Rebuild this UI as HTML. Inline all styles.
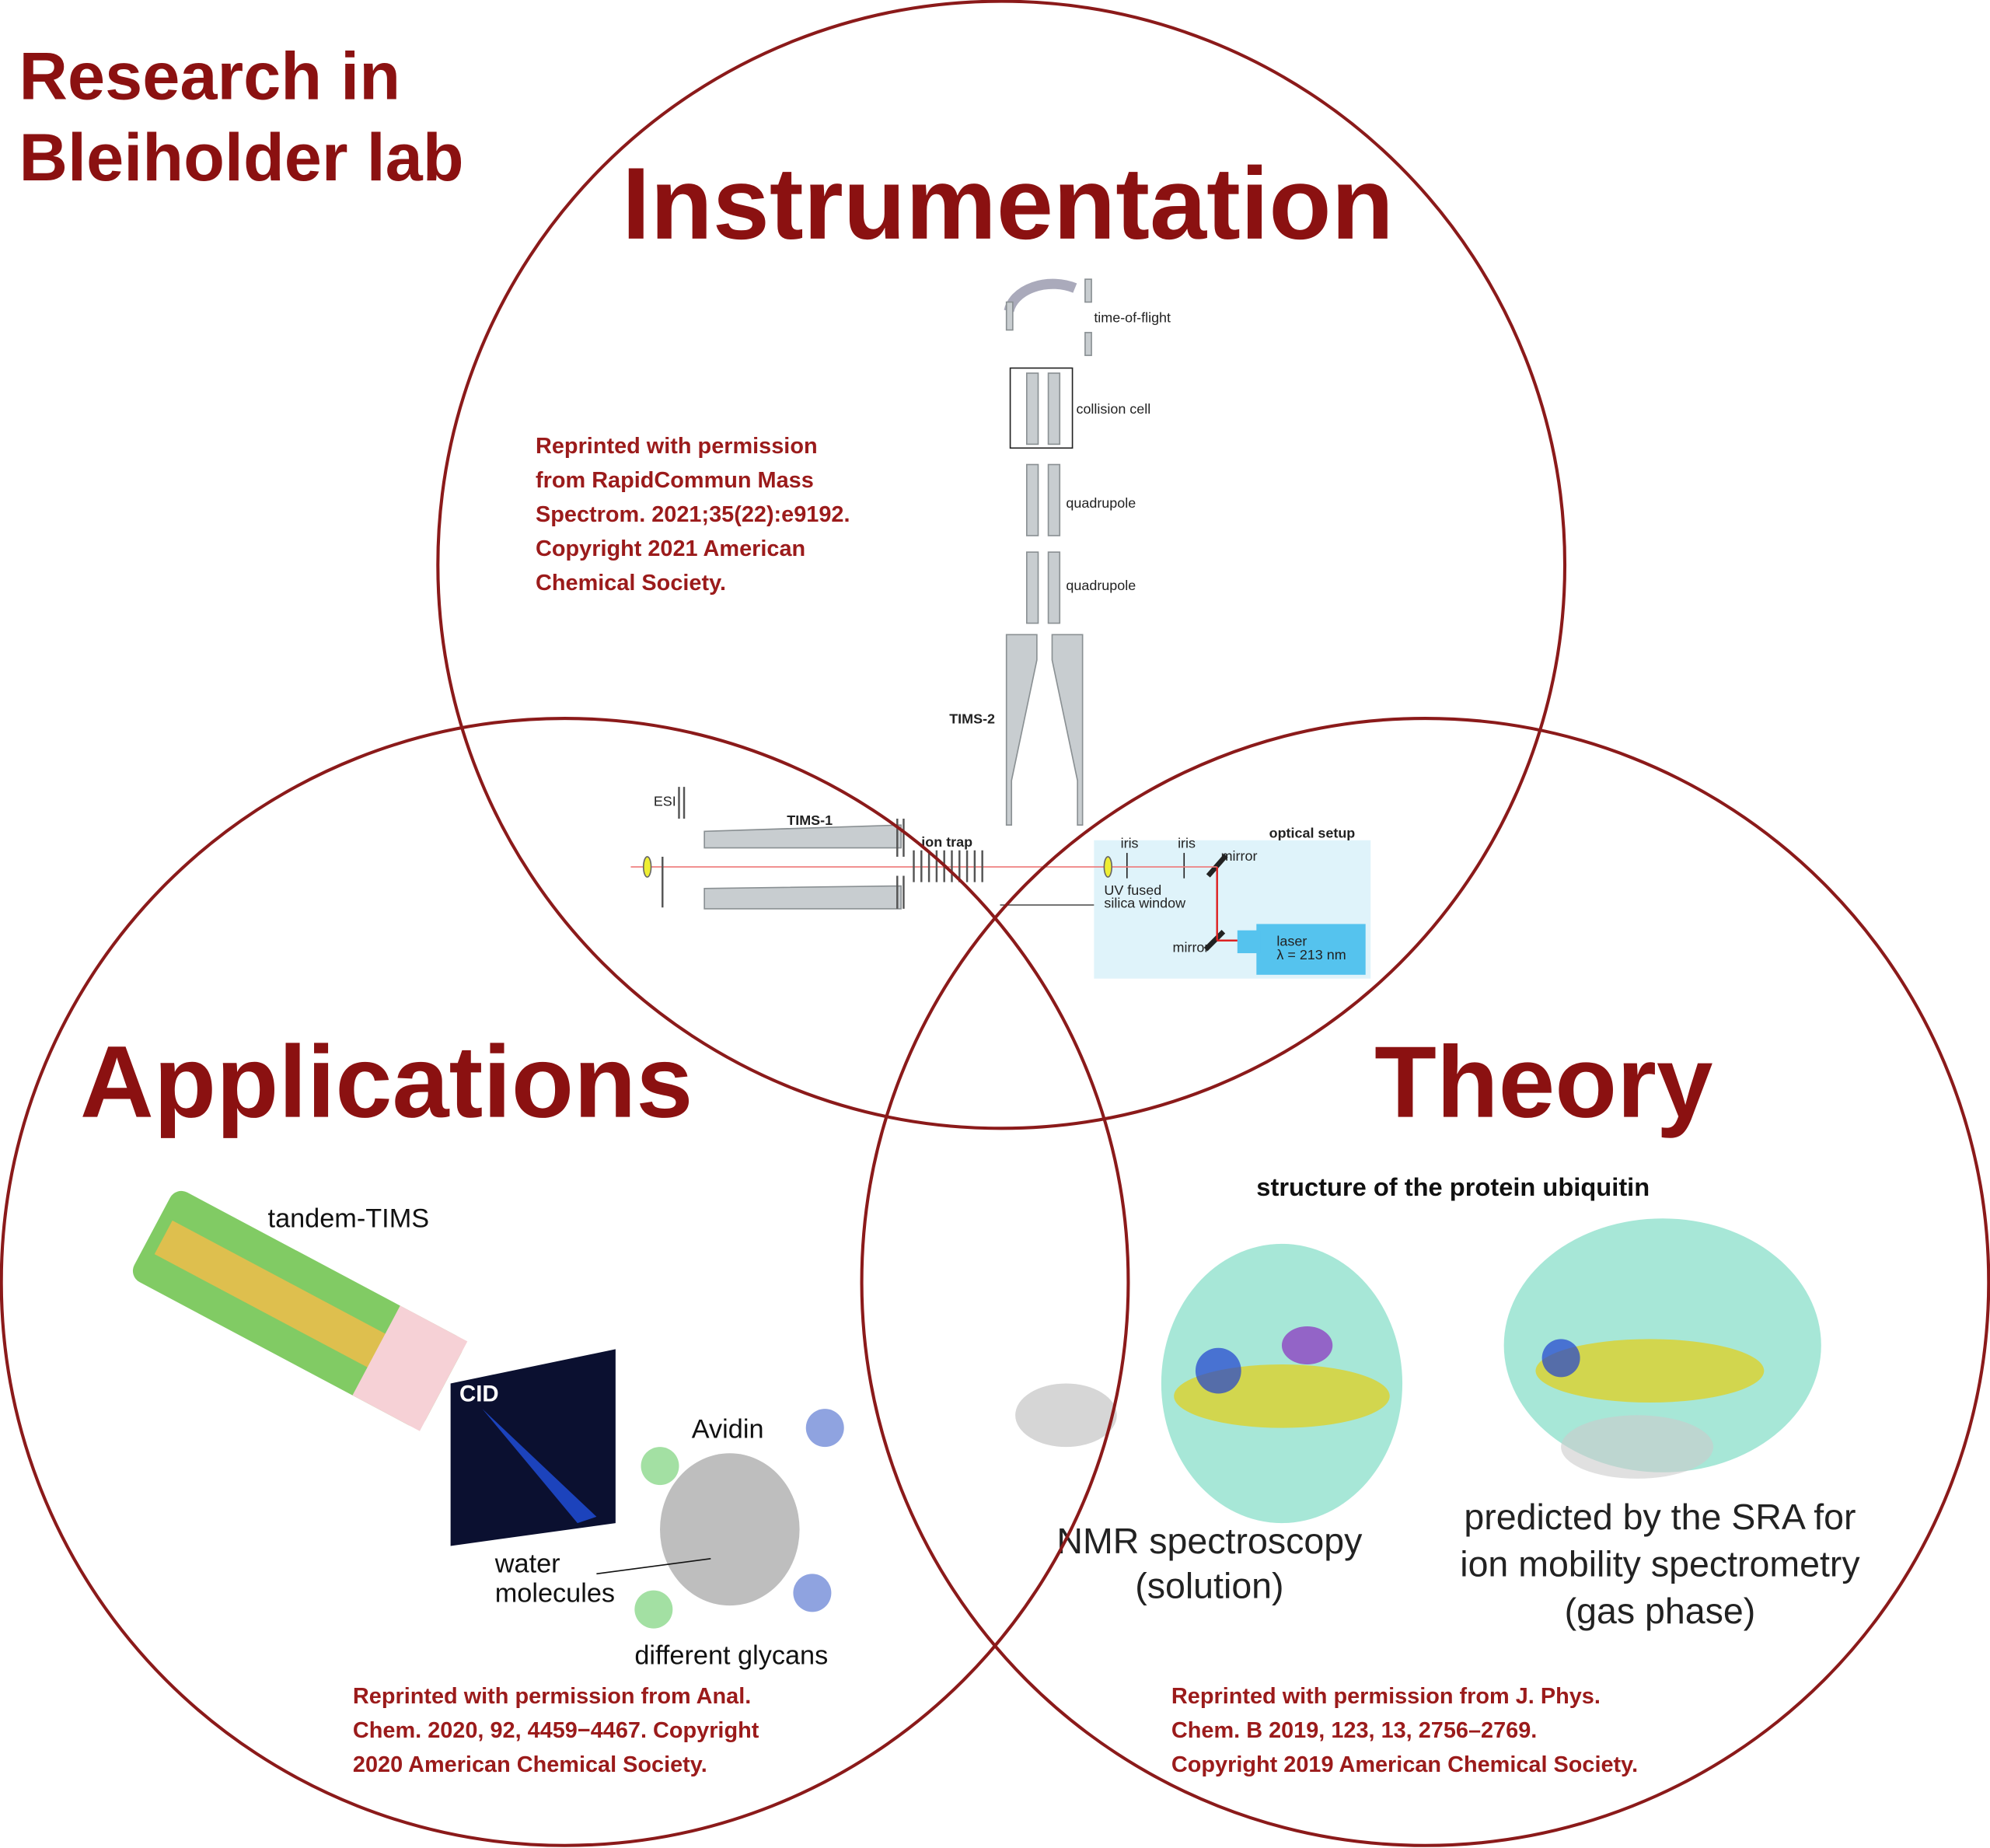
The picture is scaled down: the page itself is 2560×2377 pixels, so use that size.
<!DOCTYPE html>
<html><head><meta charset="utf-8"><style>
html,body{margin:0;padding:0;background:#fff}
svg{display:block}
text{font-family:"Liberation Sans",sans-serif}
.t{fill:#8b1111;font-weight:bold}
.c{fill:#9b1b1b;font-weight:bold;font-size:17.7px}
.s{font-size:11px;fill:#222}
</style></head><body>
<svg width="2560" height="2377" viewBox="0 0 1568 1456" xmlns="http://www.w3.org/2000/svg">
<rect width="1568" height="1456" fill="#fff"/>
<rect x="862" y="662" width="218" height="109" fill="#dff3fa"/>
<rect x="990" y="728" width="86" height="40" fill="#55c3ee"/>
<rect x="975" y="733" width="18" height="18" fill="#55c3ee"/>
<text x="1000" y="660" font-size="11" font-weight="bold" fill="#222">optical setup</text>
<text x="1006" y="745" class="s">laser</text><text x="1006" y="756" class="s">λ = 213 nm</text>
<text x="883" y="668" class="s">iris</text><text x="928" y="668" class="s">iris</text>
<text x="962" y="678" class="s">mirror</text><text x="924" y="750" class="s">mirror</text>
<text x="870" y="705" class="s">UV fused</text><text x="870" y="715" class="s">silica window</text>
<line x1="888" y1="672" x2="888" y2="692" stroke="#222"/><line x1="933" y1="672" x2="933" y2="692" stroke="#222"/>
<line x1="952" y1="690" x2="966" y2="674" stroke="#222" stroke-width="4"/>
<line x1="950" y1="748" x2="964" y2="734" stroke="#222" stroke-width="4"/>
<line x1="959" y1="683" x2="959" y2="741" stroke="#d22" stroke-width="1.5"/>
<line x1="959" y1="741" x2="975" y2="741" stroke="#d22" stroke-width="1.5"/>
<line x1="497" y1="683" x2="959" y2="683" stroke="#e77" stroke-width="1"/>
<ellipse cx="510" cy="683" rx="3" ry="8" fill="#ee3" stroke="#666"/>
<ellipse cx="873" cy="683" rx="3" ry="8" fill="#ee3" stroke="#666"/>
<g fill="#c8cdd0" stroke="#8a9093" stroke-width="1">
<path d="M795 245 a35 25 0 0 1 52 -18" fill="none" stroke="#aab" stroke-width="8"/>
<rect x="793" y="238" width="5" height="22"/><rect x="855" y="220" width="5" height="18"/><rect x="855" y="262" width="5" height="18"/>
<rect x="809" y="294" width="9" height="56"/><rect x="826" y="294" width="9" height="56"/>
<rect x="809" y="366" width="9" height="56"/><rect x="826" y="366" width="9" height="56"/>
<rect x="809" y="435" width="9" height="56"/><rect x="826" y="435" width="9" height="56"/>
<path d="M793 500 L817 500 L817 520 L797 615 L797 650 L793 650Z"/>
<path d="M829 500 L853 500 L853 650 L849 650 L849 615 L829 520Z"/>
<path d="M555 655 L710 650 L710 668 L555 668Z"/>
<path d="M555 700 L710 698 L710 716 L555 716Z"/>
</g>
<rect x="796" y="290" width="49" height="63" fill="none" stroke="#222"/>
<g stroke="#555" stroke-width="1.5">
<path d="M720 670 v25 M726 670 v25 M732 670 v25 M738 670 v25 M744 670 v25 M750 670 v25 M756 670 v25 M762 670 v25 M768 670 v25 M774 670 v25"/>
<path d="M707 645 v30 M712 645 v30 M707 690 v26 M712 690 v26 M522 675 v40 M535 620 v25 M539 620 v25"/>
</g>
<line x1="788" y1="713" x2="862" y2="713" stroke="#555"/>
<text x="862" y="254" class="s">time-of-flight</text><text x="848" y="326" class="s">collision cell</text>
<text x="840" y="400" class="s">quadrupole</text><text x="840" y="465" class="s">quadrupole</text>
<text x="748" y="570" font-size="11" font-weight="bold" fill="#222">TIMS-2</text>
<text x="620" y="650" font-size="11" font-weight="bold" fill="#222">TIMS-1</text>
<text x="726" y="667" font-size="11" font-weight="bold" fill="#222">ion trap</text>
<text x="515" y="635" class="s">ESI</text>
<g transform="rotate(28 230 1040)" opacity="0.85">
<rect x="100" y="990" width="260" height="80" rx="10" fill="#6cc24a"/>
<rect x="110" y="1015" width="240" height="30" fill="#d9b530"/>
<rect x="300" y="990" width="60" height="80" fill="#f5c9d0"/>
</g>
<path d="M355 1090 L485 1063 L485 1200 L355 1218Z" fill="#0b1030"/>
<path d="M380 1110 L470 1195 L455 1200Z" fill="#2050e0" opacity="0.8"/>
<text x="362" y="1104" font-size="18" font-weight="bold" fill="#fff">CID</text>
<ellipse cx="575" cy="1205" rx="55" ry="60" fill="#888" opacity="0.55"/>
<ellipse cx="520" cy="1155" rx="15" ry="15" fill="#6c6" opacity="0.6"/>
<ellipse cx="650" cy="1125" rx="15" ry="15" fill="#46c" opacity="0.6"/>
<ellipse cx="515" cy="1268" rx="15" ry="15" fill="#6c6" opacity="0.6"/>
<ellipse cx="640" cy="1255" rx="15" ry="15" fill="#46c" opacity="0.6"/>
<text x="211" y="967" font-size="21" fill="#111">tandem-TIMS</text>
<text x="545" y="1133" font-size="21" fill="#111">Avidin</text>
<text x="390" y="1239" font-size="21" fill="#111">water</text>
<text x="390" y="1262" font-size="21" fill="#111">molecules</text>
<text x="500" y="1311" font-size="21" fill="#111">different glycans</text>
<line x1="470" y1="1240" x2="560" y2="1228" stroke="#111"/>
<text x="990" y="942" font-size="20" font-weight="bold" fill="#111">structure of the protein ubiquitin</text>
<ellipse cx="1010" cy="1090" rx="95" ry="110" fill="#4fcfb0" opacity="0.5"/>
<ellipse cx="1010" cy="1100" rx="85" ry="25" fill="#e0d020" opacity="0.75"/>
<ellipse cx="1030" cy="1060" rx="20" ry="15" fill="#8a2cc0" opacity="0.7"/>
<ellipse cx="960" cy="1080" rx="18" ry="18" fill="#2040d0" opacity="0.7"/>
<ellipse cx="840" cy="1115" rx="40" ry="25" fill="#bbb" opacity="0.6"/>
<ellipse cx="1310" cy="1060" rx="125" ry="100" fill="#4fcfb0" opacity="0.5"/>
<ellipse cx="1300" cy="1080" rx="90" ry="25" fill="#e0d020" opacity="0.75"/>
<ellipse cx="1290" cy="1140" rx="60" ry="25" fill="#ccc" opacity="0.6"/>
<ellipse cx="1230" cy="1070" rx="15" ry="15" fill="#2040d0" opacity="0.7"/>
<text x="953" y="1224" font-size="28.5" fill="#222" text-anchor="middle">NMR spectroscopy</text>
<text x="953" y="1259" font-size="28.5" fill="#222" text-anchor="middle">(solution)</text>
<text x="1308" y="1205" font-size="28.5" fill="#222" text-anchor="middle">predicted by the SRA for</text>
<text x="1308" y="1242" font-size="28.5" fill="#222" text-anchor="middle">ion mobility spectrometry</text>
<text x="1308" y="1279" font-size="28.5" fill="#222" text-anchor="middle">(gas phase)</text>
<g fill="none" stroke="#8b1a1a" stroke-width="2.5">
<circle cx="789" cy="445" r="444"/>
<circle cx="445" cy="1010" r="444"/>
<circle cx="1123" cy="1010" r="444"/>
</g>
<text x="15" y="78" class="t" font-size="53">Research in</text>
<text x="15" y="142" class="t" font-size="53">Bleiholder lab</text>
<text x="490" y="188" class="t" font-size="80.5">Instrumentation</text>
<text x="63" y="880" class="t" font-size="80.5">Applications</text>
<text x="1083" y="880" class="t" font-size="80">Theory</text>
<text x="422" y="357" class="c">Reprinted with permission</text>
<text x="422" y="384" class="c">from RapidCommun Mass</text>
<text x="422" y="411" class="c">Spectrom. 2021;35(22):e9192.</text>
<text x="422" y="438" class="c">Copyright 2021 American</text>
<text x="422" y="465" class="c">Chemical Society.</text>
<text x="278" y="1342" class="c">Reprinted with permission from Anal.</text>
<text x="278" y="1369" class="c">Chem. 2020, 92, 4459−4467. Copyright</text>
<text x="278" y="1396" class="c">2020 American Chemical Society.</text>
<text x="923" y="1342" class="c">Reprinted with permission from J. Phys.</text>
<text x="923" y="1369" class="c">Chem. B 2019, 123, 13, 2756–2769.</text>
<text x="923" y="1396" class="c">Copyright 2019 American Chemical Society.</text>
</svg>
</body></html>
